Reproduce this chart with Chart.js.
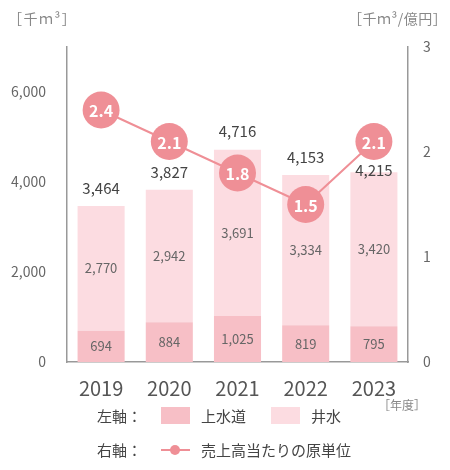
<!DOCTYPE html>
<html lang="ja">
<head>
<meta charset="utf-8">
<script src="https://cdn.jsdelivr.net/npm/chart.js@4"></script>
<style>
  body { margin: 0; background: #fff; font-family: "Noto Sans CJK JP", "Noto Sans", sans-serif; }
  #wrap { position: relative; width: 450px; height: 470px; }
  #chart { position: absolute; left: 0; top: 0; }
  .unit { position: absolute; font-size: 14px; color: #888; line-height: 1; letter-spacing: 1.5px; }
  .legend { position: absolute; left: 97px; font-size: 15px; color: #444; display: flex; align-items: center; line-height: 1; }
  .swatch { display: inline-block; width: 29px; height: 17px; }
  .lineKey { position: relative; display: inline-block; width: 29px; height: 12px; }
  .lineKey::before { content: ""; position: absolute; left: 0; right: 0; top: 5px; height: 2px; background: #ef8f96; }
  .lineKey::after { content: ""; position: absolute; left: 9px; top: 1px; width: 10px; height: 10px; border-radius: 50%; background: #ef8f96; }
</style>
</head>
<body>
<div id="wrap">
  <canvas id="chart" width="450" height="470"></canvas>
  <div class="unit" style="left:8px; top:11px;">［千ｍ³］</div>
  <div class="unit" style="left:348px; top:11px; letter-spacing:0.5px;">［千ｍ³/億円］</div>
  <div class="unit" style="left:378px; top:399px; font-size:12px; letter-spacing:0;">［年度］</div>
  <div class="legend" style="top:407px;">
    <span>左軸：</span>
    <span class="swatch" style="background:#f7bfc6; margin-left:19px;"></span>
    <span style="margin-left:11px;">上水道</span>
    <span class="swatch" style="background:#fcdce1; margin-left:25px;"></span>
    <span style="margin-left:11px;">井水</span>
  </div>
  <div class="legend" style="top:442px;">
    <span>右軸：</span>
    <span class="lineKey" style="margin-left:19px;"></span>
    <span style="margin-left:11px;">売上高当たりの原単位</span>
  </div>
</div>
<script>
// ---- データ ----
const years = ["2019", "2020", "2021", "2022", "2023"];
const josuido = [694, 884, 1025, 819, 795];     // 上水道
const idomizu = [2770, 2942, 3691, 3334, 3420]; // 井水
const totals = [3464, 3827, 4716, 4153, 4215];
const intensity = [2.4, 2.1, 1.8, 1.5, 2.1];    // 売上高当たりの原単位
const leftTicks = [0, 2000, 4000, 6000];
const rightTicks = [0, 1, 2, 3];

const fontFamily = "'Noto Sans CJK JP', 'Noto Sans', sans-serif";
const fmt = v => v.toLocaleString("en-US");

// ---- ラベル描画 ----
const labelPlugin = {
  id: "labels",
  afterDatasetsDraw(chart) {
    const ctx = chart.ctx;
    const lowMeta = chart.getDatasetMeta(1);
    const highMeta = chart.getDatasetMeta(2);
    const lineMeta = chart.getDatasetMeta(0);
    ctx.save();
    ctx.textAlign = "center";
    ctx.textBaseline = "middle";

    // 積み上げ内の値
    ctx.font = "13px " + fontFamily;
    ctx.fillStyle = "#666";
    [lowMeta, highMeta].forEach((meta, d) => {
      const vals = d === 0 ? josuido : idomizu;
      meta.data.forEach((bar, i) => {
        ctx.fillText(fmt(vals[i]), bar.x, (bar.y + bar.base) / 2);
      });
    });

    // 合計 (丸と重なる時は丸の下へ)
    ctx.font = "15px " + fontFamily;
    ctx.fillStyle = "#444";
    highMeta.data.forEach((bar, i) => {
      let y = bar.y - 18;
      const pt = lineMeta.data[i];
      if (Math.abs(y - pt.y) < 26) y = pt.y + 29;
      ctx.fillText(fmt(totals[i]), bar.x, y);
    });
    ctx.restore();

    // 原単位 (丸の中)
    ctx.save();
    ctx.textAlign = "center";
    ctx.textBaseline = "middle";
    ctx.font = "bold 16px " + fontFamily;
    ctx.fillStyle = "#fff";
    lineMeta.data.forEach((pt, i) => {
      ctx.fillText(intensity[i].toFixed(1), pt.x, pt.y + 1);
    });
    ctx.restore();
  }
};

new Chart(document.getElementById("chart"), {
  type: "bar",
  data: {
    labels: years,
    datasets: [
      {
        type: "line",
        label: "売上高当たりの原単位",
        data: intensity,
        yAxisID: "y1",
        borderColor: "#ef8f96",
        borderWidth: 2,
        pointRadius: 18.5,
        pointBackgroundColor: "#ef8f96",
        pointBorderWidth: 0,
        order: 0,
        clip: false,
      },
      {
        label: "上水道",
        data: josuido,
        backgroundColor: "#f7bfc6",
        yAxisID: "y",
        order: 1,
      },
      {
        label: "井水",
        data: idomizu,
        backgroundColor: "#fcdce1",
        yAxisID: "y",
        order: 2,
      },
    ],
  },
  options: {
    responsive: false,
    animation: false,
    events: [],
    barPercentage: 0.69,
    categoryPercentage: 1,
    layout: { padding: { left: 0, right: 0, top: 47, bottom: 68 } },
    plugins: {
      legend: { display: false },
      tooltip: { enabled: false },
    },
    scales: {
      x: {
        stacked: true,
        grid: { display: false, drawTicks: false },
        border: { display: true, color: "#999", width: 1.5 },
        ticks: { color: "#555", font: { family: fontFamily, size: 20 }, padding: 14 },
        afterFit: s => { s.height = 40; },
      },
      y: {
        stacked: true,
        position: "left",
        min: 0,
        max: 7000,
        grid: { display: false, drawTicks: false },
        border: { display: true, color: "#999", width: 1.5 },
        afterBuildTicks: s => { s.ticks = leftTicks.map(v => ({ value: v })); },
        ticks: { color: "#666", font: { family: fontFamily, size: 14 }, padding: 21, callback: v => fmt(v) },
        afterFit: s => { s.width = 67; },
      },
      y1: {
        position: "right",
        min: 0,
        max: 3,
        grid: { display: false, drawTicks: false },
        border: { display: true, color: "#999", width: 1.5 },
        afterBuildTicks: s => { s.ticks = rightTicks.map(v => ({ value: v })); },
        ticks: { color: "#666", font: { family: fontFamily, size: 14 }, padding: 15 },
        afterFit: s => { s.width = 42; },
      },
    },
  },
  plugins: [labelPlugin],
});
</script>
</body>
</html>
